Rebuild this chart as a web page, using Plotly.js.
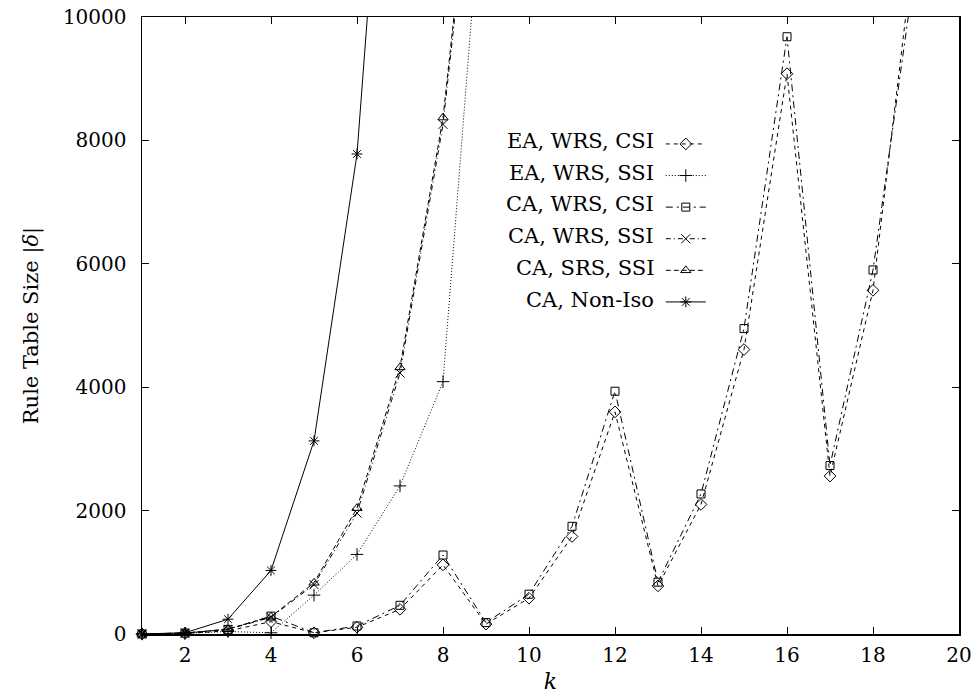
<!DOCTYPE html>
<html>
<head>
<meta charset="utf-8">
<script src="https://cdn.plot.ly/plotly-3.0.1.min.js"></script>
<style>
  html, body { margin: 0; padding: 0; background: #fff; }
  #chart { width: 974px; height: 698px; }
</style>
</head>
<body>
<div id="chart"></div>
<script>
// ---- data ----
var kLong  = [1, 2, 3, 4, 5, 6, 7, 8, 9, 10, 11, 12, 13, 14, 15, 16, 17, 18, 19];
var kShort = [1, 2, 3, 4, 5, 6, 7, 8, 9];
var kIso   = [1, 2, 3, 4, 5, 6, 7];

var eaWrsCsi = [1, 10, 50, 200, 20, 110, 400, 1120, 160, 580, 1580, 3600, 780, 2100, 4610, 9080, 2560, 5570, 11400];
var eaWrsSsi = [1, 10, 40, 20, 630, 1290, 2400, 4090, 13000];
var caWrsCsi = [1, 15, 75, 290, 20, 130, 465, 1280, 185, 645, 1745, 3935, 840, 2270, 4950, 9680, 2730, 5900, 10900];
var caWrsSsi = [1, 15, 75, 270, 800, 1960, 4230, 8260, 14600];
var caSrsSsi = [1, 15, 80, 280, 830, 2040, 4320, 8370, 14800];
var caNonIso = [1, 20, 240, 1030, 3130, 7780, 17000];

var seriesNames = ["EA, WRS, CSI", "EA, WRS, SSI", "CA, WRS, CSI", "CA, WRS, SSI", "CA, SRS, SSI", "CA, Non-Iso"];
var xTicks = [2, 4, 6, 8, 10, 12, 14, 16, 18, 20];
var yTicks = [0, 2000, 4000, 6000, 8000, 10000];

var FONT = "DejaVu Serif, Liberation Serif, serif";

function tr(x, y, sym, dash, size) {
  return {
    x: x, y: y, type: "scatter", mode: "lines+markers",
    name: "\u00a0", cliponaxis: false,
    line: { color: "#000", width: 1, dash: dash },
    marker: { symbol: sym, size: size || 8, color: "#000", line: { color: "#000", width: 1 } }
  };
}

var data = [
  tr(kLong,  eaWrsCsi, "diamond-open", "4px,4px", 9),
  tr(kShort, eaWrsSsi, "cross-thin-open", "1px,2px", 9),
  tr(kLong,  caWrsCsi, "square-open", "7px,4px,2px,4px", 8),
  tr(kShort, caWrsSsi, "x-thin-open", "5px,3px,1px,3px", 9),
  tr(kShort, caSrsSsi, "triangle-up-open", "5px,3px", 9),
  tr(kIso,   caNonIso, "asterisk-open", "solid", 9)
];

var annotations = seriesNames.map(function (n, i) {
  return {
    text: n, xref: "paper", yref: "paper",
    x: 0.629, y: 0.7994 - i * 0.05157,
    xanchor: "right", yanchor: "middle", showarrow: false,
    font: { family: FONT, size: 21, color: "#000" }
  };
});

var layout = {
  width: 974, height: 698,
  margin: { l: 142, r: 15, t: 17, b: 64 },
  paper_bgcolor: "#fff", plot_bgcolor: "#fff",
  font: { family: FONT, size: 20, color: "#000" },
  showlegend: true,
  legend: {
    x: 0.635, y: 0.828, xanchor: "left", yanchor: "top",
    bgcolor: "rgba(0,0,0,0)", borderwidth: 0,
    font: { family: FONT, size: 22 },
    itemwidth: 40, tracegroupgap: 0
  },
  xaxis: {
    range: [1, 20], tickvals: xTicks, ticktext: xTicks.map(String),
    ticks: "inside", ticklen: 7, tickwidth: 1, tickcolor: "#000",
    showline: true, linecolor: "#000", linewidth: 1.5, mirror: "ticks",
    showgrid: false, zeroline: false, ticklabelstandoff: 2,
    tickfont: { family: FONT, size: 20 },
    title: { text: "<i>k</i>", font: { family: FONT, size: 22 }, standoff: 8 }
  },
  yaxis: {
    range: [0, 10000], tickvals: yTicks, ticktext: yTicks.map(String),
    ticks: "inside", ticklen: 7, tickwidth: 1, tickcolor: "#000",
    showline: true, linecolor: "#000", linewidth: 1.5, mirror: "ticks",
    showgrid: false, zeroline: false, ticklabelstandoff: 10,
    tickfont: { family: FONT, size: 20 },
    title: { text: "Rule Table Size |<i>δ</i>|", font: { family: FONT, size: 21 }, standoff: 18 }
  },
  annotations: annotations
};

Plotly.newPlot("chart", data, layout, { staticPlot: true, displayModeBar: false });
</script>
</body>
</html>
